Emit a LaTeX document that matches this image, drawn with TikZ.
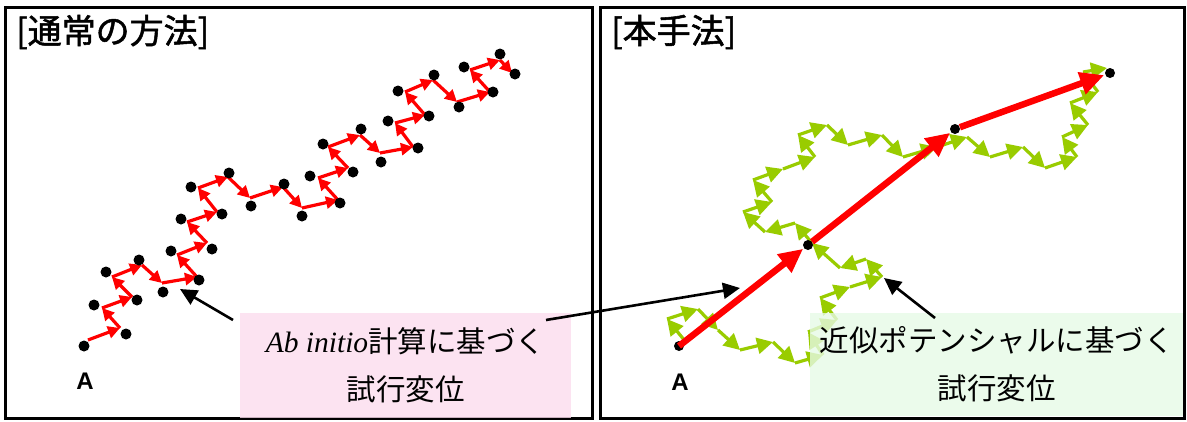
\documentclass[tikz,border=0pt]{standalone}
\usepackage{fontspec}
\setmainfont{Liberation Serif}
\newfontfamily\jpfont{Noto Sans CJK JP}
\newfontfamily\jptitle[FakeBold=1.5]{Noto Sans CJK JP}
\newfontfamily\labfont{Liberation Sans}
\usetikzlibrary{arrows.meta}
\definecolor{limeg}{HTML}{99CC00}
\definecolor{pinkbox}{HTML}{FCDDEE}
\definecolor{greenbox}{HTML}{E6FAE6}
\definecolor{redc}{HTML}{FF0000}
\tikzset{
  panel/.style={draw=black, line width=3pt},
  titletext/.style={anchor=west, inner sep=0pt, font=\jptitle\fontsize{34}{40}\selectfont},
  dotnode/.style={circle, fill=black, inner sep=0pt, minimum size=11pt},
  smalldot/.style={circle, fill=black, inner sep=0pt, minimum size=10pt},
  redstep/.style={draw=redc, line width=3.2pt, -{Triangle[length=12pt,width=12pt]}},
  greenstep/.style={draw=limeg, line width=3.2pt, -{Triangle[length=16pt,width=16pt]}},
  bigred/.style={draw=redc, line width=6.5pt, -{Triangle[length=24pt,width=22pt]}, shorten >=1pt},
  pointer/.style={draw=black, line width=2.6pt, -{Triangle[length=17pt,width=16pt]}},
  alabel/.style={inner sep=0pt, font=\labfont\bfseries\fontsize{24}{28}\selectfont},
  notebox/.style={inner sep=0pt, align=center, fill opacity=0.8, text opacity=1,
    font=\fontsize{29.5}{48}\selectfont},
}
\begin{document}
\begin{tikzpicture}[x=1pt, y=-1pt]
\useasboundingbox (0,0) rectangle (1187,421);
\fill[white] (0,0) rectangle (1187,421);
% panels
\draw[panel] (5,7) rectangle (592,418);
\draw[panel] (600,7) rectangle (1184,418);
\node[titletext] (t1) at (16,32) {[通常の方法]};
\node[titletext] (t2) at (611,32) {[本手法]};
% ---------- left panel ----------
\foreach \x/\y [count=\i from 0] in {88/340,120/328,102/308,132/297,112/277,142/265,162/283,197/277,177/255,207/243,187/222,217/212,198/188,228/177,250/198,283/187,302/208,338/200,318/178,348/168,328/147,360/135,380/153,413/147,395/123,425/115,405/92,433/80,457/102,490/92,470/70,500/60,512/73}
  \coordinate (r\i) at (\x,\y);
\foreach \i in {0,...,31}{
  \pgfmathtruncatemacro\j{\i+1}
  \draw[redstep] (r\i) -- (r\j);
}
\foreach \x/\y [count=\i from 0] in {84/346,126/334,94/305,137/300,106/272,139/260,163/292,199/280,171/251,212/249,181/219,222/214,191/187,229/173,251/206,284/184,302/216,340/203,310/176,353/172,323/144,361/129,381/162,418/148,388/121,429/116,398/91,434/75,459/107,493/92,464/67,500/54,515/74}
  \node[dotnode] (d\i) at (\x,\y) {};
\node[alabel] (la) at (85,381) {A};
% ---------- right panel ----------
\foreach \x/\y [count=\i from 0] in {685/341,667/319,698/309,718/330,740/350,773/342,795/363,823/355,808/332,837/320,820/298,850/287,882/277,866/259,840/268,812/243,795/223,765/232,743/212,772/202,753/180,783/169,815/157,798/135,827/125,848/145,882/135,903/157,937/147,967/137,990/157,1023/147,1045/168,1077/157,1062/137,1088/125,1070/103,1098/92,1083/72,1107/68}
  \coordinate (g\i) at (\x,\y);
\foreach \i in {0,...,38}{
  \pgfmathtruncatemacro\j{\i+1}
  \draw[greenstep] (g\i) -- (g\j);
}
\node[smalldot] (pA) at (679,346) {};
\node[smalldot] (pM) at (808,245) {};
\node[smalldot] (pB) at (955,129) {};
\node[smalldot] (pE) at (1110,73) {};
\draw[bigred] (pA.center) -- (pM);
\draw[bigred] (pM) -- (pB);
\draw[bigred] (pB) -- (pE);
\node[alabel] (ra) at (680,382) {A};
% ---------- note boxes ----------
\node[notebox, fill=pinkbox, minimum width=331pt, minimum height=105pt] (pink) at (405.5,365.5)
  {{\itshape Ab initio}{\jpfont 計算に基づく}\\{\jpfont 試行変位}};
\node[notebox, fill=greenbox, minimum width=373pt, minimum height=103pt] (green) at (996.5,364.5)
  {{\jpfont 近似ポテンシャルに基づく}\\{\jpfont 試行変位}};
% ---------- pointers ----------
\coordinate (p1s) at (233,320);
\coordinate (p1e) at (180,289);
\coordinate (p2s) at (546,320);
\coordinate (p2e) at (740,288);
\coordinate (p3s) at (935,318);
\coordinate (p3e) at (884,278);
\draw[pointer] (p1s) -- (p1e);
\draw[pointer] (p2s) -- (p2e);
\draw[pointer] (p3s) -- (p3e);
\end{tikzpicture}
\end{document}
